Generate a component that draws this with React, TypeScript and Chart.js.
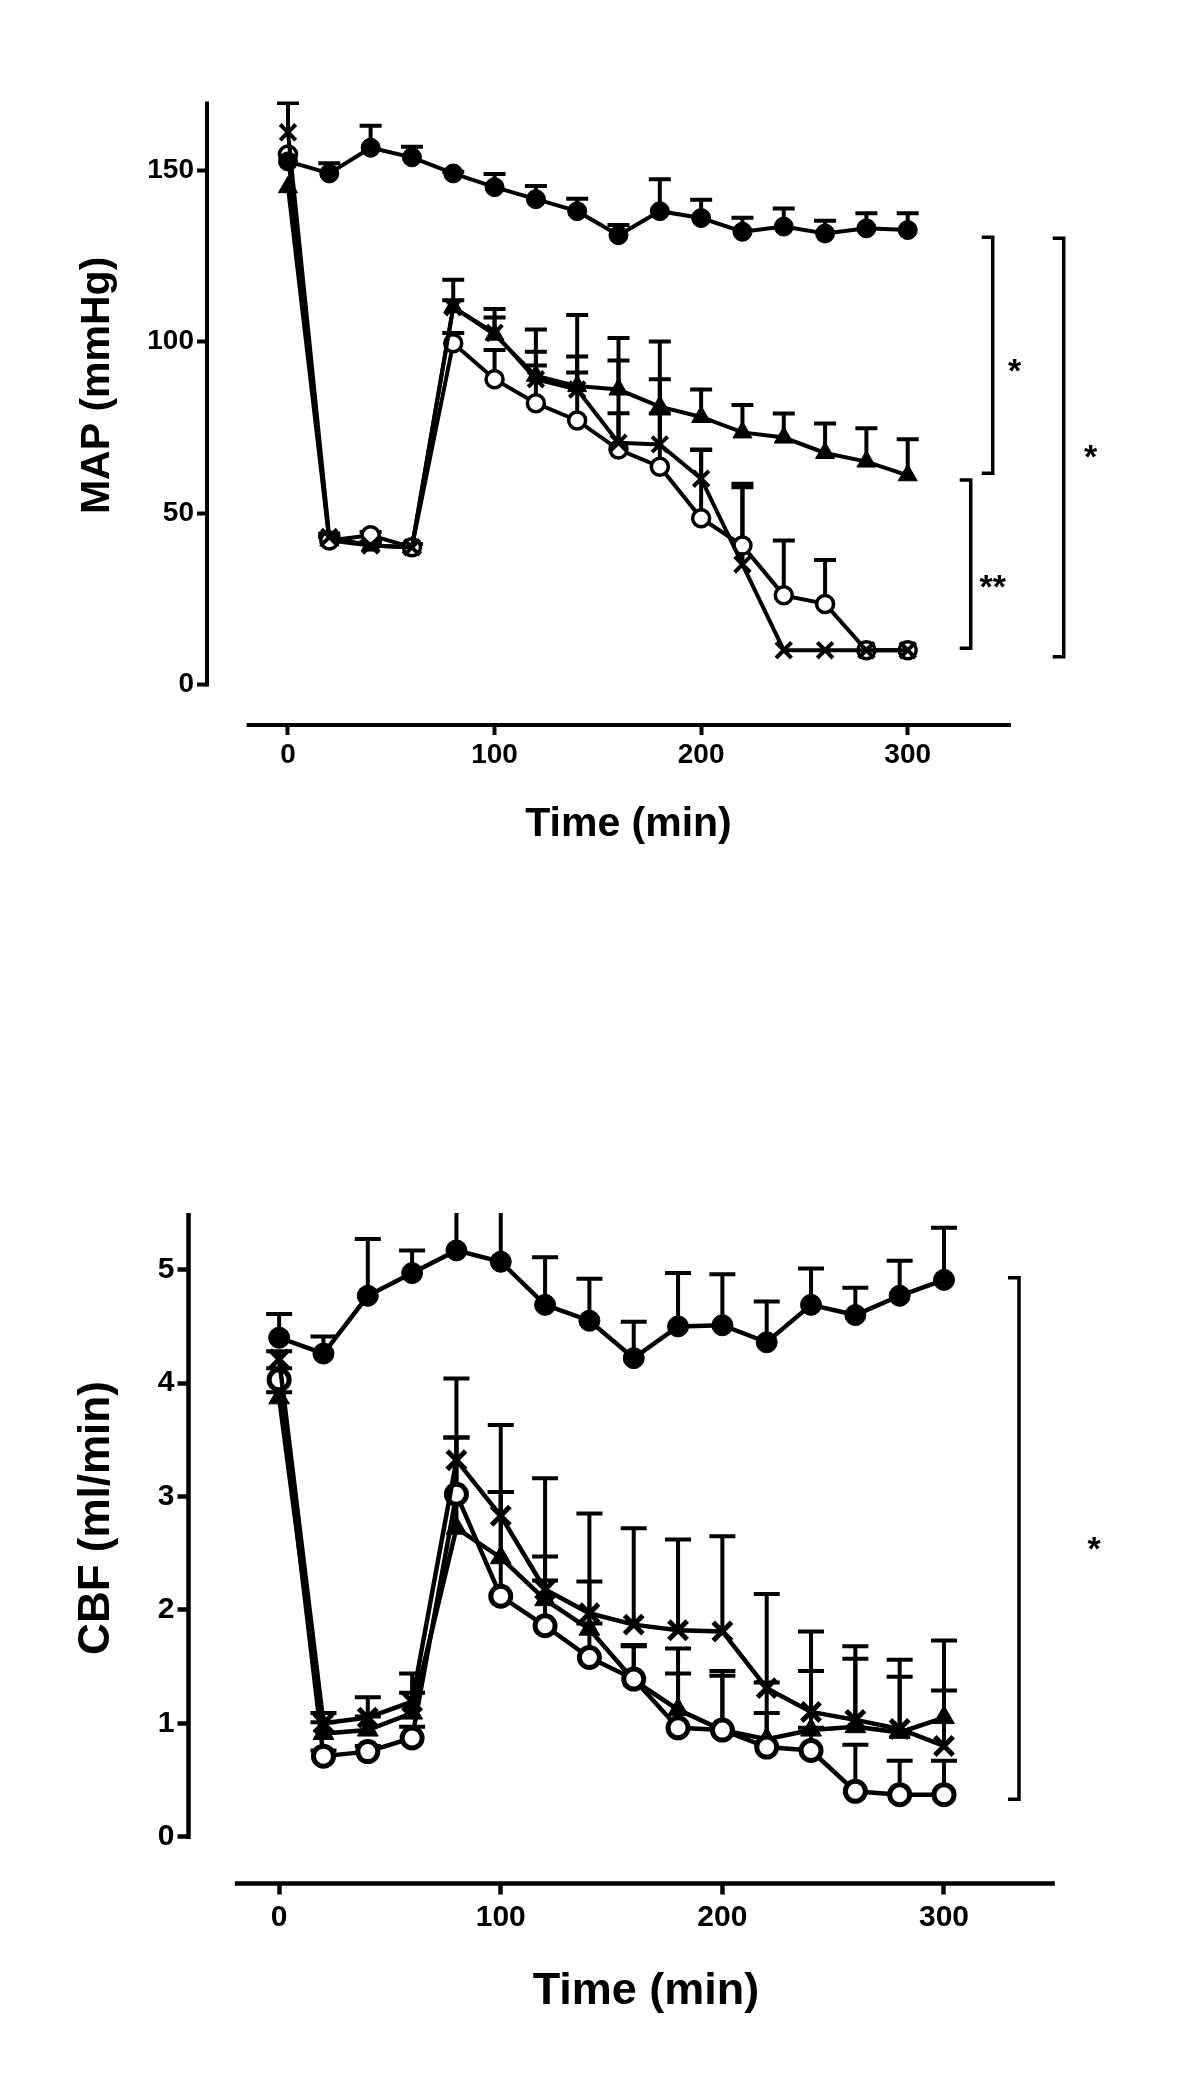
import React, { useEffect, useRef } from "react";
import { Chart, registerables } from "chart.js";

Chart.register(...registerables);

const FONT = '"Liberation Sans", Arial, Helvetica, sans-serif';

// ---------- shared ----------
const times = [0, 20, 40, 60, 80, 100, 120, 140, 160, 180, 200, 220, 240, 260, 280, 300];
const timeTicks = [0, 100, 200, 300];
const xAxisStart = -20;
const xAxisEnd = 350;
const xTitle = "Time (min)";

// ---------- MAP (top chart) ----------
const mapTitle = "MAP (mmHg)";
const mapTicks = [0, 50, 100, 150];
const mapAxisTop = 170;
const mapSham = [152.5, 149, 156.5, 153.7, 149, 145, 141.5, 138, 131, 138, 136, 132, 133.5, 131.5, 133, 132.5];
const mapShamErr = [0, 3, 6.4, 3.1, 0.5, 3.8, 3.8, 3.6, 3, 9.3, 5.3, 4.1, 5.3, 3.7, 4.4, 4.9];
const mapTri = [145, 42, 40.5, 40, 110, 102, 90, 87, 86, 81, 78, 73.5, 72, 67.5, 65, 61];
const mapTriErr = [0, 1, 1, 1, 2, 5, 13.5, 20.7, 15, 19, 8, 8, 7, 8.6, 9.7, 10.5];
const mapX = [161, 43, 40.5, 40, 110, 102.5, 89, 86, 70.5, 70, 60, 35, 10, 10, 10, 10];
const mapXErr = [8.5, 1, 1, 1, 8, 7, 4, 5, 8.6, 9, 8.4, 22.5, 0, 0, 0, 0];
const mapO = [154.5, 42, 43.5, 40, 99.5, 89, 82, 77, 68.5, 63.5, 48.5, 40.5, 26, 23.5, 10, 10];
const mapOErr = [0, 1, 1, 1, 3, 8.5, 15, 18.6, 26, 25.5, 20, 18, 16, 12.8, 0, 0];
const mapBracketHigh = [130.4, 59.6, 130.1];
const mapBracketLow = [61.6, 10.6, 8.1];
const mapBracketLabels = ["*", "**", "*"];
const mapBracketLabelAt = [93.8, 31, 68.9];

// ---------- CBF (bottom chart) ----------
const cbfTitle = "CBF (ml/min)";
const cbfTicks = [0, 1, 2, 3, 4, 5];
const cbfAxisTop = 5.5;
const cbfSham = [4.4, 4.26, 4.77, 4.97, 5.17, 5.07, 4.69, 4.55, 4.22, 4.5, 4.51, 4.36, 4.69, 4.6, 4.77, 4.91];
const cbfShamErr = [0.21, 0.15, 0.5, 0.2, 0.45, 0.65, 0.42, 0.37, 0.32, 0.47, 0.45, 0.36, 0.32, 0.24, 0.31, 0.46];
const cbfTri = [3.87, 0.91, 0.94, 1.09, 2.72, 2.46, 2.09, 1.83, 1.38, 1.12, 0.94, 0.86, 0.94, 0.97, 0.92, 1.05];
const cbfTriErr = [0.05, 0.1, 0.12, 0.18, 0.8, 0.58, 0.38, 0.42, 0.3, 0.54, 0.52, 0.5, 0.52, 0.6, 0.49, 0.68];
const cbfX = [4.21, 1.0, 1.05, 1.19, 3.32, 2.83, 2.18, 1.97, 1.87, 1.82, 1.81, 1.31, 1.1, 1.03, 0.95, 0.8];
const cbfXErr = [0.07, 0.09, 0.18, 0.25, 0.72, 0.8, 0.98, 0.88, 0.85, 0.8, 0.84, 0.83, 0.71, 0.65, 0.61, 0.49];
const cbfO = [4.03, 0.71, 0.75, 0.87, 3.02, 2.12, 1.86, 1.58, 1.39, 0.96, 0.94, 0.79, 0.76, 0.4, 0.37, 0.37];
const cbfOErr = [0.1, 0.05, 0.05, 0.1, 0.5, 0.92, 0.4, 0.3, 0.3, 0.48, 0.48, 0.3, 0.2, 0.41, 0.3, 0.3];
const cbfBracketHigh = [4.93];
const cbfBracketLow = [0.33];
const cbfBracketLabels = ["*"];
const cbfBracketLabelAt = [2.61];

// ---------- plugin: GraphPad-style axes, error bars, brackets, titles ----------
const gpPlugin = {
  id: "gp",
  beforeDatasetsDraw(chart: any, _args: any, opts: any) {
    const { ctx, chartArea } = chart;
    const xs = chart.scales.x;
    const ys = chart.scales.y;
    ctx.save();
    ctx.beginPath();
    ctx.rect(0, chartArea.top, chart.width, chart.height - chartArea.top);
    ctx.clip();
    ctx.strokeStyle = "#000";
    ctx.lineWidth = opts.errWidth;
    ctx.lineCap = "butt";
    chart.data.datasets.forEach((ds: any) => {
      const errs: number[] = ds.errors;
      if (!errs) return;
      ds.data.forEach((pt: any, i: number) => {
        const e = errs[i];
        if (!e) return;
        const px = xs.getPixelForValue(pt.x);
        const py = ys.getPixelForValue(pt.y);
        const pt2 = ys.getPixelForValue(pt.y + e);
        ctx.beginPath();
        ctx.moveTo(px, py);
        ctx.lineTo(px, pt2);
        ctx.moveTo(px - opts.capHalf, pt2);
        ctx.lineTo(px + opts.capHalf, pt2);
        ctx.stroke();
      });
    });
    ctx.restore();
  },
  afterDraw(chart: any, _args: any, opts: any) {
    const { ctx, chartArea } = chart;
    const xs = chart.scales.x;
    const ys = chart.scales.y;
    ctx.save();
    ctx.strokeStyle = "#000";
    ctx.fillStyle = "#000";
    ctx.lineCap = "butt";
    ctx.lineJoin = "miter";
    // y axis line (0 .. axis top)
    ctx.lineWidth = opts.axisWidth;
    ctx.beginPath();
    ctx.moveTo(chartArea.left, ys.getPixelForValue(0) + opts.tickWidth / 2);
    ctx.lineTo(chartArea.left, ys.getPixelForValue(opts.axisTop));
    ctx.stroke();
    // x axis line (offset below)
    ctx.beginPath();
    ctx.moveTo(xs.getPixelForValue(xAxisStart), chartArea.bottom);
    ctx.lineTo(xs.getPixelForValue(xAxisEnd), chartArea.bottom);
    ctx.stroke();
    // significance brackets
    const ref = xs.getPixelForValue(300);
    ctx.lineWidth = opts.bracketWidth;
    opts.brackets.high.forEach((hi: number, i: number) => {
      const bx = ref + opts.bracketOffsets[i];
      const y1 = ys.getPixelForValue(hi);
      const y2 = ys.getPixelForValue(opts.brackets.low[i]);
      ctx.beginPath();
      ctx.moveTo(bx - opts.bracketTick, y1);
      ctx.lineTo(bx, y1);
      ctx.lineTo(bx, y2);
      ctx.lineTo(bx - opts.bracketTick, y2);
      ctx.stroke();
      ctx.font = `bold ${opts.starSize}px ${FONT}`;
      ctx.textAlign = "center";
      ctx.textBaseline = "alphabetic";
      ctx.fillText(
        opts.brackets.labels[i],
        ref + opts.starOffsets[i],
        ys.getPixelForValue(opts.brackets.labelAt[i]) + opts.starSize * 0.57
      );
    });
    // axis titles
    ctx.textAlign = "center";
    ctx.textBaseline = "middle";
    ctx.font = `bold ${opts.xTitle.size}px ${FONT}`;
    ctx.fillText(opts.xTitle.text, opts.xTitle.x, opts.xTitle.y);
    ctx.save();
    ctx.translate(opts.yTitle.x, opts.yTitle.y);
    ctx.rotate(-Math.PI / 2);
    ctx.font = `bold ${opts.yTitle.size}px ${FONT}`;
    ctx.fillText(opts.yTitle.text, 0, 0);
    ctx.restore();
    ctx.restore();
  },
};

function series(vals: number[], errs: number[], style: any) {
  return {
    data: times.map((t, i) => ({ x: t, y: vals[i] })),
    errors: errs,
    borderColor: "#000",
    borderWidth: style.lineWidth,
    tension: 0,
    fill: false,
    clip: false,
    pointStyle: style.pointStyle,
    pointRadius: style.radius,
    pointBackgroundColor: style.bg,
    pointBorderColor: "#000",
    pointBorderWidth: style.pointBorder,
  };
}

function buildConfig(p: any) {
  const sz = p.sizes;
  return {
    type: "line",
    data: {
      datasets: [
        series(p.sham, p.shamErr, { pointStyle: "circle", radius: sz.dot, bg: "#000", pointBorder: 1, lineWidth: sz.line }),
        series(p.x, p.xErr, { pointStyle: "crossRot", radius: sz.cross, bg: "#000", pointBorder: sz.crossWidth, lineWidth: sz.line }),
        series(p.o, p.oErr, { pointStyle: "circle", radius: sz.ring, bg: "#fff", pointBorder: sz.ringWidth, lineWidth: sz.line }),
        series(p.tri, p.triErr, { pointStyle: "triangle", radius: sz.tri, bg: "#000", pointBorder: 1, lineWidth: sz.line }),
      ],
    },
    options: {
      responsive: false,
      maintainAspectRatio: false,
      animation: false,
      events: [],
      devicePixelRatio: 1,
      layout: { padding: { top: p.padTop, right: p.padRight, left: 0, bottom: 0 } },
      plugins: {
        legend: { display: false },
        tooltip: { enabled: false },
        title: { display: false },
        gp: {
          axisTop: p.axisTop,
          axisWidth: sz.axis,
          tickWidth: sz.axis,
          errWidth: sz.err,
          capHalf: sz.cap,
          bracketWidth: 3.5,
          bracketTick: 11,
          starSize: 34,
          brackets: p.brackets,
          bracketOffsets: p.bracketOffsets,
          starOffsets: p.starOffsets,
          xTitle: p.xTitle,
          yTitle: p.yTitle,
        },
      },
      scales: {
        x: {
          type: "linear",
          min: p.xMin,
          max: xAxisEnd,
          afterFit: (s: any) => {
            s.height = p.xAxisHeight;
          },
          afterBuildTicks: (s: any) => {
            s.ticks = timeTicks.map((v) => ({ value: v }));
          },
          border: { display: false },
          grid: {
            display: true,
            drawOnChartArea: false,
            drawTicks: true,
            tickLength: p.tickLength,
            tickWidth: sz.axis,
            color: "#000",
          },
          ticks: {
            autoSkip: false,
            maxRotation: 0,
            padding: p.xTickPad,
            color: "#000",
            font: { family: FONT, size: p.tickFont, weight: "bold" },
          },
        },
        y: {
          type: "linear",
          min: p.yMin,
          max: p.axisTop,
          afterFit: (s: any) => {
            s.width = p.yAxisWidth;
          },
          afterBuildTicks: (s: any) => {
            s.ticks = p.yTicks.map((v: number) => ({ value: v }));
          },
          border: { display: false },
          grid: {
            display: true,
            drawOnChartArea: false,
            drawTicks: true,
            tickLength: p.tickLength,
            tickWidth: sz.axis,
            color: "#000",
          },
          ticks: {
            autoSkip: false,
            padding: 3,
            color: "#000",
            font: { family: FONT, size: p.tickFont, weight: "bold" },
          },
        },
      },
    },
    plugins: [gpPlugin],
  };
}

const mapParams = {
  sham: mapSham, shamErr: mapShamErr, tri: mapTri, triErr: mapTriErr,
  x: mapX, xErr: mapXErr, o: mapO, oErr: mapOErr,
  yTicks: mapTicks, axisTop: mapAxisTop,
  yMin: -11.8, xMin: -39.2,
  padTop: 101.4, padRight: 189, yAxisWidth: 207, xAxisHeight: 275,
  tickLength: 10, xTickPad: 3, tickFont: 28,
  sizes: { dot: 9.5, cross: 11, crossWidth: 4, ring: 8.5, ringWidth: 3.5, tri: 11, line: 4, axis: 4, err: 4, cap: 11 },
  brackets: { high: mapBracketHigh, low: mapBracketLow, labels: mapBracketLabels, labelAt: mapBracketLabelAt },
  bracketOffsets: [85, 63, 156],
  starOffsets: [107, 85, 183],
  xTitle: { text: xTitle, x: 628.5, y: 825, size: 41 },
  yTitle: { text: mapTitle, x: 98, y: 385.4, size: 41 },
};

const cbfParams = {
  sham: cbfSham, shamErr: cbfShamErr, tri: cbfTri, triErr: cbfTriErr,
  x: cbfX, xErr: cbfXErr, o: cbfO, oErr: cbfOErr,
  yTicks: cbfTicks, axisTop: cbfAxisTop,
  yMin: -0.413, xMin: -40.9,
  padTop: 213, padRight: 145.2, yAxisWidth: 188.5, xAxisHeight: 208.5,
  tickLength: 11, xTickPad: 5, tickFont: 30,
  sizes: { dot: 10.5, cross: 13, crossWidth: 5, ring: 10, ringWidth: 5, tri: 12, line: 4.5, axis: 4.5, err: 4, cap: 13 },
  brackets: { high: cbfBracketHigh, low: cbfBracketLow, labels: cbfBracketLabels, labelAt: cbfBracketLabelAt },
  bracketOffsets: [75],
  starOffsets: [150],
  xTitle: { text: xTitle, x: 646, y: 991.5, size: 45 },
  yTitle: { text: cbfTitle, x: 97, y: 518, size: 44 },
};

export default function App() {
  const topRef = useRef<HTMLCanvasElement | null>(null);
  const botRef = useRef<HTMLCanvasElement | null>(null);

  useEffect(() => {
    const c1 = new Chart(topRef.current as HTMLCanvasElement, buildConfig(mapParams) as any);
    const c2 = new Chart(botRef.current as HTMLCanvasElement, buildConfig(cbfParams) as any);
    return () => {
      c1.destroy();
      c2.destroy();
    };
  }, []);

  return (
    <div style={{ position: "absolute", left: 0, top: 0, width: 1200, height: 2092, background: "#fff" }}>
      <canvas
        ref={topRef}
        width={1200}
        height={1000}
        style={{ position: "absolute", left: 0, top: 0, width: 1200, height: 1000 }}
      />
      <canvas
        ref={botRef}
        width={1200}
        height={1092}
        style={{ position: "absolute", left: 0, top: 1000, width: 1200, height: 1092 }}
      />
    </div>
  );
}
